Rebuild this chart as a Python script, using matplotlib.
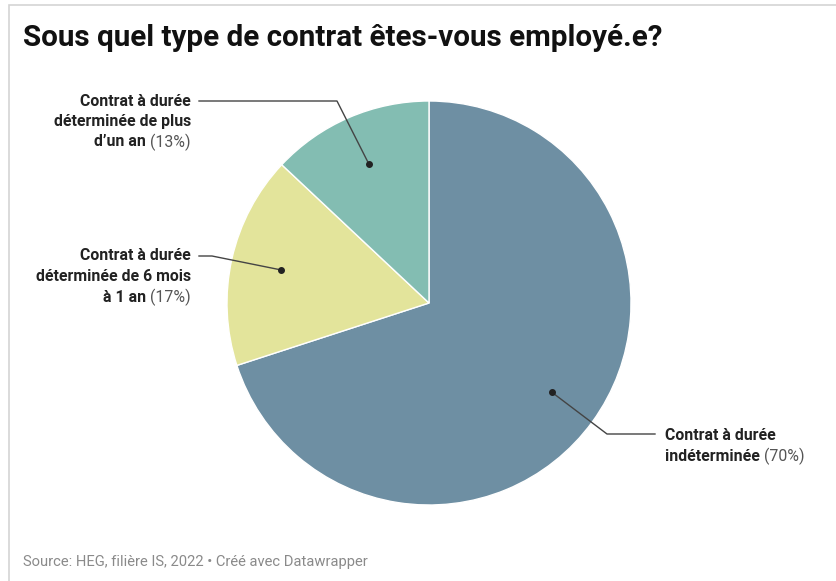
import numpy as np
import matplotlib
matplotlib.use("Agg")
import matplotlib.pyplot as plt
from matplotlib.patches import Rectangle

plt.rcParams['font.family'] = ['Roboto', 'DejaVu Sans']

# contract types, clockwise from the top
labels = [
    ["Contrat à durée", "indéterminée"],
    ["Contrat à durée", "déterminée de 6 mois", "à 1 an"],
    ["Contrat à durée", "déterminée de plus", "d’un an"],
]
shares = [70, 17, 13]
colors = ["#6e8fa3", "#e3e49b", "#83bdb2"]

W, H = 836, 581
fig = plt.figure(figsize=(W / 100, H / 100), dpi=100)
ax = fig.add_axes([0, 0, 1, 1])

cx, cy, R = 429, H - 303, 202
wedges, _ = ax.pie(shares, colors=colors, startangle=90, counterclock=False,
                   center=(cx, cy), radius=R,
                   wedgeprops=dict(edgecolor="white", linewidth=1))
ax.set_xlim(0, W)
ax.set_ylim(0, H)
ax.set_aspect("equal")
ax.axis("off")

# light frame on the left and top
ax.add_patch(Rectangle((9, -10), W, H - 5 + 10, fill=False,
                       edgecolor="#d4d4d4", linewidth=1.2))

fig.text(23 / W, 1 - 38 / H, "Sous quel type de contrat êtes-vous employé.e?",
         fontsize=21.3, fontweight="bold", color="#111111", va="center")
fig.text(23 / W, 1 - 562 / H, "Source: HEG, filière IS, 2022 • Créé avec Datawrapper",
         fontsize=10.6, color="#8a8a8a", va="center")

# label anchor: x of text edge, y of first line, alignment, leader path (elbow points)
layout = [
    dict(x=665, y=436, ha="left", path=[(655, 434), (607, 434)]),
    dict(x=191, y=256, ha="right", path=[(199, 256), (212, 256)]),
    dict(x=191, y=101, ha="right", path=[(199, 101), (337, 101)]),
]
line_h = 20.5
fs = 11.4

total = sum(shares)
start = 0.0
for lines, share, lay in zip(labels, shares, layout):
    mid = (start + share / 2) / total
    start += share
    ang = np.deg2rad(90 - 360 * mid)
    dx, dy = cx + 0.75 * R * np.cos(ang), cy + 0.75 * R * np.sin(ang)

    xs = [p[0] for p in lay["path"]] + [dx]
    ys = [H - p[1] for p in lay["path"]] + [dy]
    ax.plot(xs, ys, color="#444444", linewidth=1)
    ax.plot(dx, dy, "o", color="#222222", markersize=4)

    for i, line in enumerate(lines):
        y = H - (lay["y"] + i * line_h)
        last = i == len(lines) - 1
        if not last:
            ax.text(lay["x"], y, line, ha=lay["ha"], va="center",
                    fontsize=fs, fontweight="bold", color="#222222")
        elif lay["ha"] == "left":
            t = ax.text(lay["x"], y, line + " ", ha="left", va="center",
                        fontsize=fs, fontweight="bold", color="#222222")
            ax.annotate(f"({share}%)", xy=(1, 0.5), xycoords=t, ha="left",
                        va="center", fontsize=fs, color="#555555")
        else:
            t = ax.text(lay["x"], y, f"({share}%)", ha="right", va="center",
                        fontsize=fs, color="#555555")
            ax.annotate(line + " ", xy=(0, 0.5), xycoords=t, ha="right",
                        va="center", fontsize=fs, fontweight="bold",
                        color="#222222")

fig.savefig("out.png", dpi=100, facecolor="white")
